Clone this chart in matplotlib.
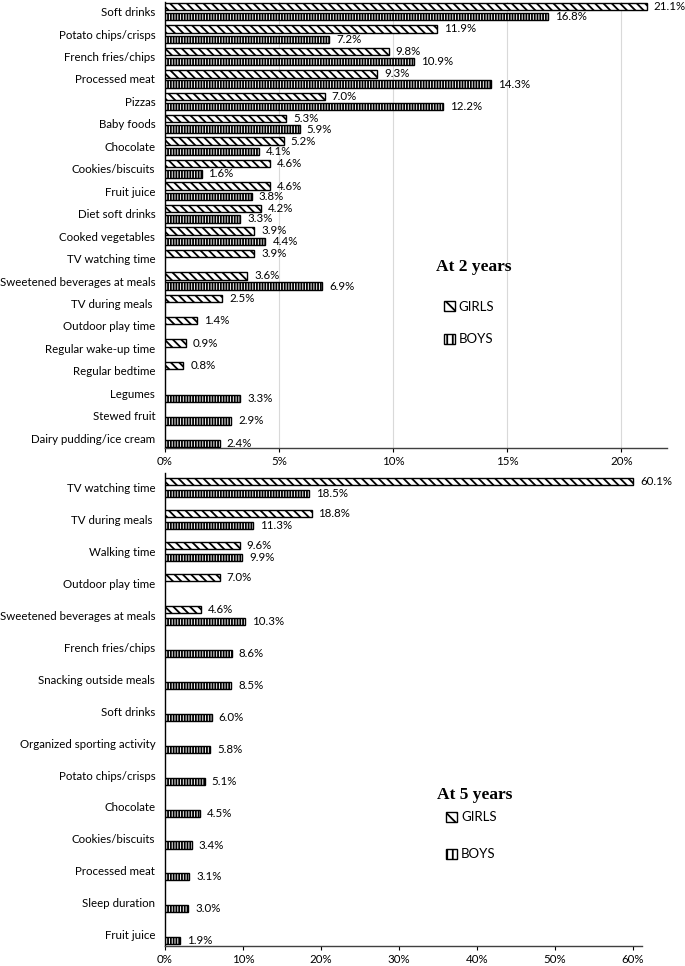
import numpy as np
import matplotlib
matplotlib.use("Agg")
import matplotlib.pyplot as plt
from matplotlib.patches import Patch

# =========================
# DATA
# =========================
cats_2y = ["Soft drinks", "Potato chips/crisps", "French fries/chips", "Processed meat",
           "Pizzas", "Baby foods", "Chocolate", "Cookies/biscuits", "Fruit juice",
           "Diet soft drinks", "Cooked vegetables", "TV watching time",
           "Sweetened beverages at meals", "TV during meals ", "Outdoor play time",
           "Regular wake-up time", "Regular bedtime", "Legumes", "Stewed fruit",
           "Dairy pudding/ice cream"]
girls_2y = [21.1, 11.9, 9.8, 9.3, 7.0, 5.3, 5.2, 4.6, 4.6, 4.2, 3.9, 3.9, 3.6, 2.5, 1.4,
            0.9, 0.8, None, None, None]
boys_2y = [16.8, 7.2, 10.9, 14.3, 12.2, 5.9, 4.1, 1.6, 3.8, 3.3, 4.4, None, 6.9, None,
           None, None, None, 3.3, 2.9, 2.4]

cats_5y = ["TV watching time", "TV during meals ", "Walking time", "Outdoor play time",
           "Sweetened beverages at meals", "French fries/chips", "Snacking outside meals",
           "Soft drinks", "Organized sporting activity", "Potato chips/crisps",
           "Chocolate", "Cookies/biscuits", "Processed meat", "Sleep duration", "Fruit juice"]
girls_5y = [60.1, 18.8, 9.6, 7.0, 4.6] + [None] * 10
boys_5y = [18.5, 11.3, 9.9, None, 10.3, 8.6, 8.5, 6.0, 5.8, 5.1, 4.5, 3.4, 3.1, 3.0, 1.9]

# =========================
# STYLE
# =========================
plt.rcParams["font.family"] = ["Lato", "DejaVu Sans"]
plt.rcParams["hatch.linewidth"] = 1.3
GIRL_HATCH = "\\\\\\\\"
BOY_HATCH = "||||||"
FS = 8.3

fig = plt.figure(figsize=(6.85, 9.66), dpi=100)
ax1 = fig.add_axes([0.2409, 0.5362, 0.733, 0.462])
ax2 = fig.add_axes([0.2409, 0.0207, 0.6964, 0.4897])


def draw_panel(ax, cats, girls, boys, off, h, ylim):
    y = np.arange(len(cats))
    for i in range(len(cats)):
        for val, dy, hatch in ((girls[i], -off, GIRL_HATCH), (boys[i], off, BOY_HATCH)):
            if val is None:
                continue
            ax.barh(y[i] + dy, val, height=h, color="white", edgecolor="black",
                    hatch=hatch, linewidth=1.0, zorder=3)
            ax.annotate(f"{val:.1f}%", (val, y[i] + dy), xytext=(5, 0),
                        textcoords="offset points", va="center", ha="left", fontsize=FS)
    ax.set_yticks(y)
    ax.set_yticklabels(cats, fontsize=FS)
    ax.set_ylim(*ylim)
    ax.tick_params(axis="y", length=0, pad=7)
    ax.tick_params(axis="x", length=3, direction="out", labelsize=FS, pad=3)
    for s in ("top", "right"):
        ax.spines[s].set_visible(False)
    ax.spines["left"].set_linewidth(1.0)
    ax.spines["bottom"].set_linewidth(1.0)
    ax.spines["bottom"].set_color("#404040")


def legend_block(ax, title, tx, ty, lx, ly, spacing):
    ax.text(tx, ty, title, transform=ax.transAxes, ha="center", va="center",
            fontsize=12.5, fontweight="bold", family="Liberation Serif")
    handles = [Patch(facecolor="white", edgecolor="black", hatch="\\\\\\", label="GIRLS"),
               Patch(facecolor="white", edgecolor="black", hatch="|||", label="BOYS")]
    ax.legend(handles=handles, loc="upper left", bbox_to_anchor=(lx, ly), frameon=False,
              fontsize=9.5, handlelength=0.8, handleheight=0.8, handletextpad=0.3,
              labelspacing=spacing, borderpad=0, borderaxespad=0)


# ---- At 2 years
draw_panel(ax1, cats_2y, girls_2y, boys_2y, 0.23, 0.33, (19.44, -0.44))
ax1.set_xlim(0, 22)
ax1.set_xticks([0, 5, 10, 15, 20])
ax1.set_xticklabels(["0%", "5%", "10%", "15%", "20%"])
ax1.grid(axis="x", color="#d9d9d9", linewidth=0.8, zorder=0)
ax1.set_axisbelow(True)
legend_block(ax1, "At 2 years", 0.614, 0.406, 0.556, 0.33, 1.55)

# ---- At 5 years
draw_panel(ax2, cats_5y, girls_5y, boys_5y, 0.19, 0.22, (14.35, -0.45))
ax2.set_xlim(0, 61.2)
ax2.set_xticks(np.arange(0, 61, 10))
ax2.set_xticklabels([f"{v}%" for v in range(0, 61, 10)])
legend_block(ax2, "At 5 years", 0.65, 0.319, 0.59, 0.285, 1.9)

fig.savefig("out.png", dpi=100)
